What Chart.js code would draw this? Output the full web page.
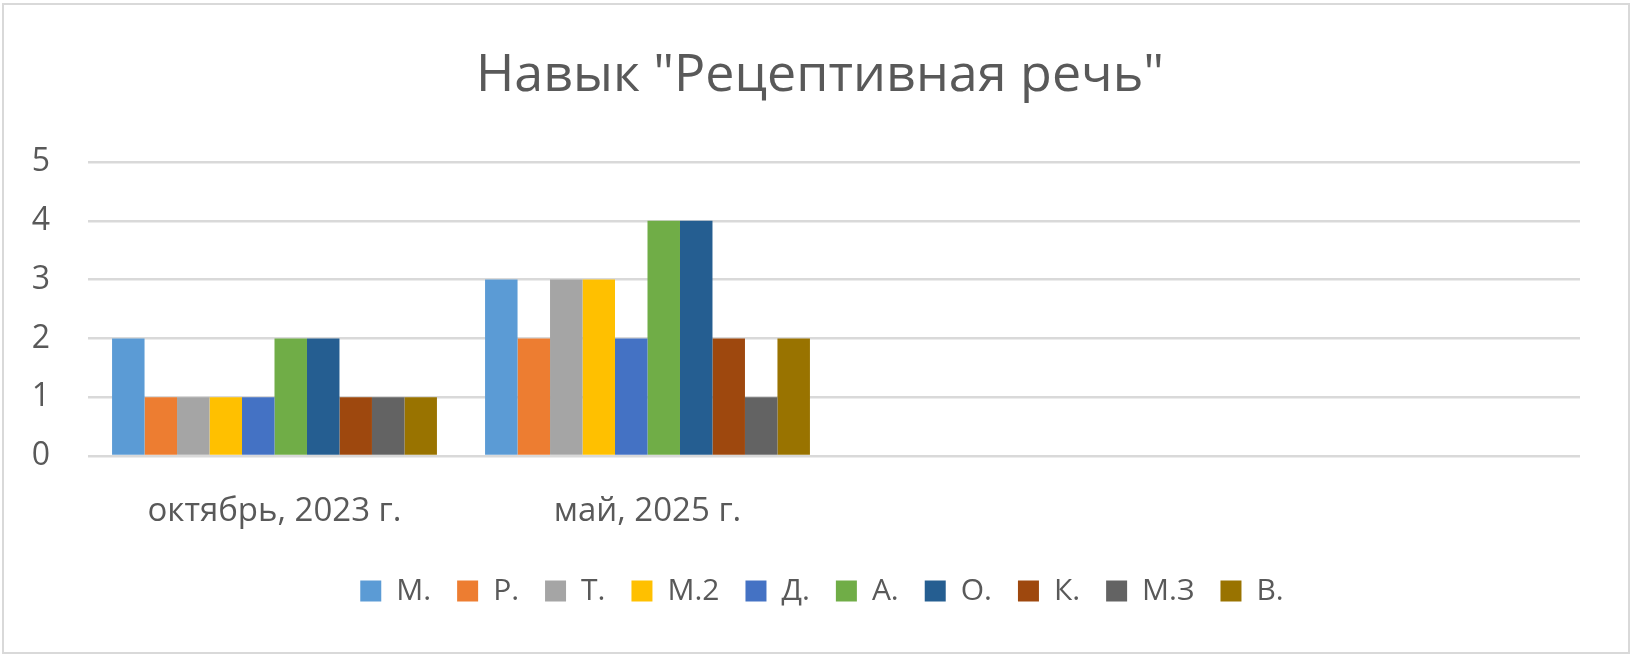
<!DOCTYPE html>
<html>
<head>
<meta charset="utf-8">
<script src="https://cdn.jsdelivr.net/npm/chart.js@4"></script>
<style>
html,body{margin:0;padding:0;background:#fff;}
#wrap{position:relative;width:1634px;height:658px;}
#frame{position:absolute;left:2px;top:3px;width:1628px;height:651px;border:2px solid #d9d9d9;box-sizing:border-box;pointer-events:none;}
</style>
</head>
<body>
<div id="wrap"><canvas id="c" width="1634" height="658"></canvas><div id="frame"></div></div>
<script>
const categories = ["октябрь, 2023 г.", "май, 2025 г.", "", ""];
const seriesNames = ["М.", "Р.", "Т.", "М.2", "Д.", "А.", "О.", "К.", "М.З", "В."];
const octValues = [2, 1, 1, 1, 1, 2, 2, 1, 1, 1];
const mayValues = [3, 2, 3, 3, 2, 4, 4, 2, 1, 2];
const colors = ["#5B9BD5", "#ED7D31", "#A5A5A5", "#FFC000", "#4472C4", "#70AD47", "#255E91", "#9E480E", "#636363", "#997300"];
const titleText = 'Навык "Рецептивная речь"';
const yTicks = [0, 1, 2, 3, 4, 5];

const FONT = "'Open Sans', 'Noto Sans', sans-serif";
const datasets = seriesNames.map((n, i) => ({
  label: n,
  data: [octValues[i], mayValues[i], null, null],
  backgroundColor: colors[i],
  borderWidth: 0,
  categoryPercentage: 0.871,
  barPercentage: 1.0
}));

// re-centre title and legend on the whole chart (Excel centres them on the frame)
const boxShift = {
  id: 'boxShift',
  afterLayout(chart) {
    if (chart.titleBlock) { chart.titleBlock.left += 26; chart.titleBlock.right += 26; }
    if (chart.legend) { chart.legend.left += 28; chart.legend.right += 28; }
  }
};

new Chart(document.getElementById('c'), {
  type: 'bar',
  data: { labels: categories, datasets },
  plugins: [boxShift],
  options: {
    responsive: false,
    animation: false,
    devicePixelRatio: 1,
    layout: { padding: { left: 8, right: 54, top: 0, bottom: 42 } },
    plugins: {
      tooltip: { enabled: false },
      title: {
        display: true,
        text: titleText,
        color: '#595959',
        font: { family: FONT, size: 52, weight: 'normal', lineHeight: 1.2 },
        padding: { top: 45, bottom: 54.6 }
      },
      legend: {
        position: 'bottom',
        labels: {
          color: '#595959',
          font: { family: FONT, size: 30 },
          boxWidth: 21,
          boxHeight: 21,
          padding: 26
        }
      }
    },
    scales: {
      x: {
        grid: { display: false, drawTicks: false },
        border: { display: false },
        ticks: { color: '#595959', font: { family: FONT, size: 33 }, padding: 36 },
        afterFit: s => { s.height = 94; }
      },
      y: {
        min: 0, max: 5,
        afterBuildTicks: s => { s.ticks = yTicks.map(v => ({ value: v })); },
        ticks: { color: '#595959', font: { family: FONT, size: 32 }, padding: 38 },
        grid: { color: '#d9d9d9', lineWidth: 2.5, drawTicks: false },
        border: { display: false },
        afterFit: s => { s.width = 80; }
      }
    }
  }
});
</script>
</body>
</html>
